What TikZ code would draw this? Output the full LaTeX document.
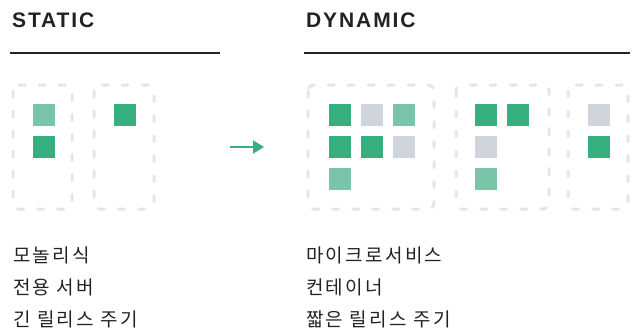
\documentclass[tikz,border=0pt]{standalone}
\usepackage{fontspec}
\setmainfont{Liberation Sans}
\newfontfamily\hangul[LetterSpace=12]{Noto Sans CJK KR}
\newfontfamily\titlefont[LetterSpace=9]{Liberation Sans}
\usetikzlibrary{arrows.meta}
\definecolor{ink}{HTML}{222222}
\definecolor{sqdark}{HTML}{36B07F}
\definecolor{sqlight}{HTML}{7AC5A9}
\definecolor{sqgrey}{HTML}{D0D4DC}
\definecolor{boxline}{HTML}{E4E5E9}
\tikzset{
    hostbox/.style={draw=boxline,line width=3pt,line cap=round,dash pattern=on 6pt off 14pt,rounded corners=6pt},
    heading/.style={anchor=base west,inner sep=0pt,text=ink,font=\titlefont\fontsize{21}{21}\selectfont\bfseries},
    caption/.style={anchor=west,inner sep=0pt,text=ink,font=\hangul\fontsize{19}{19}\selectfont}
}
\begin{document}
\begin{tikzpicture}[x=1pt,y=-1pt]
            \useasboundingbox (0,0) rectangle (636,327);
            % headings and rules
            \node[heading] (static) at (12,27) {STATIC};
            \node[heading] (dynamic) at (306,27) {DYNAMIC};
            \draw[ink,line width=2pt] (10,53) -- (220,53);
            \draw[ink,line width=2pt] (304,53) -- (630,53);
            % hosts
            \draw[hostbox] (13,85) rectangle (72,209);
            \draw[hostbox] (94,85) rectangle (154,209);
            \draw[hostbox] (308,85) rectangle (434,209);
            \draw[hostbox] (456,85) rectangle (549,209);
            \draw[hostbox] (568,85) rectangle (628,209);
            % services
            \foreach \x/\y/\c in {33/104/sqlight,33/136/sqdark,114/104/sqdark,
                329/104/sqdark,361/104/sqgrey,393/104/sqlight,
                329/136/sqdark,361/136/sqdark,393/136/sqgrey,329/168/sqlight,
                475/104/sqdark,507/104/sqdark,475/136/sqgrey,475/168/sqlight,
                588/104/sqgrey,588/136/sqdark}
                \fill[\c] (\x,\y) rectangle ++(22,22);
            % arrow
            \coordinate (from) at (230,147);
            \coordinate (to) at (264,147);
            \draw[sqdark,line width=2pt,-{Triangle[length=11pt,width=13pt]}] (from) -- (to);
            % captions
            \node[caption] (mono) at (13,255) {모놀리식};
            \node[caption] (dedicated) at (13,287) {전용 서버};
            \node[caption] (longrel) at (13,319) {긴 릴리스 주기};
            \node[caption] (micro) at (306,255) {마이크로서비스};
            \node[caption] (container) at (306,287) {컨테이너};
            \node[caption] (shortrel) at (306,319) {짧은 릴리스 주기};
        \end{tikzpicture}
\end{document}
